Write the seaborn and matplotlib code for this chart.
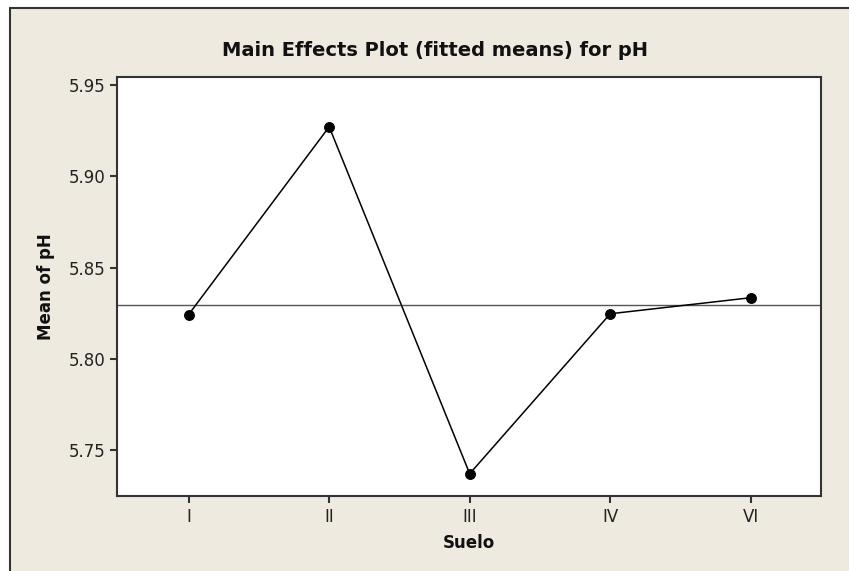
import matplotlib
matplotlib.use("Agg")
import matplotlib.pyplot as plt
from matplotlib.patches import Rectangle
from matplotlib.lines import Line2D
import seaborn as sns
import pandas as pd

# Fitted means of pH for each soil type
suelos = ["I", "II", "III", "IV", "VI"]
medias_ph = [5.8243, 5.9272, 5.7370, 5.8247, 5.8335]
media_global = 5.8297

y_ticks = [5.75, 5.80, 5.85, 5.90, 5.95]

df = pd.DataFrame({"Suelo": suelos, "pH": medias_ph})

edge = "#333333"
bg = "#eeeae0"
sns.set_theme(style="ticks")
plt.rcParams["font.family"] = ["DejaVu Sans"]

W, H = 849, 571
fig = plt.figure(figsize=(W / 100, H / 100), dpi=100, facecolor=bg)

ax = fig.add_axes([117 / W, (H - 496) / H, 704 / W, 419 / H])
ax.set_facecolor("white")

ax.axhline(media_global, color="#555555", linewidth=1.0)

sns.pointplot(data=df, x="Suelo", y="pH", color="black", errorbar=None,
              markers="o", linestyles="-", markersize=7, linewidth=1.1,
              ax=ax)

ax.set_xlim(-0.51, 4.5)
ax.set_ylim(5.7248, 5.9545)
ax.set_yticks(y_ticks)
ax.set_yticklabels([f"{v:.2f}" for v in y_ticks])

for s in ax.spines.values():
    s.set_visible(True)
    s.set_color(edge)
    s.set_linewidth(1.5)

ax.tick_params(axis="both", length=5, width=1.5, colors=edge,
               labelsize=12, bottom=True, left=True)
ax.tick_params(axis="both", labelcolor="#222222")
ax.tick_params(axis="x", pad=4)
ax.tick_params(axis="y", pad=3)
for t in ax.xaxis.get_major_ticks() + ax.yaxis.get_major_ticks():
    t.tick1line.set_visible(True)

ax.set_xlabel("Suelo", fontsize=12, fontweight="bold", color="#111111",
              labelpad=5.5)
ax.set_ylabel("Mean of pH", fontsize=12, fontweight="bold", color="#111111",
              labelpad=10)
ax.set_title("Main Effects Plot (fitted means) for pH", fontsize=14,
             fontweight="bold", color="#111111", pad=15, x=0.4517)

# White margin strips along the top and left, with the panel's frame lines
x0, y0 = 10 / W, (H - 8) / H
fig.add_artist(Rectangle((0, y0), 1, 1 - y0, transform=fig.transFigure,
                         facecolor="white", edgecolor="none", zorder=5))
fig.add_artist(Rectangle((0, 0), x0, 1, transform=fig.transFigure,
                         facecolor="white", edgecolor="none", zorder=5))
fig.add_artist(Line2D([x0, 1], [y0, y0], transform=fig.transFigure,
                      color=edge, linewidth=1.5, zorder=6))
fig.add_artist(Line2D([x0, x0], [0, y0], transform=fig.transFigure,
                      color=edge, linewidth=1.5, zorder=6))

fig.savefig("out.png", dpi=100, facecolor=fig.get_facecolor())
